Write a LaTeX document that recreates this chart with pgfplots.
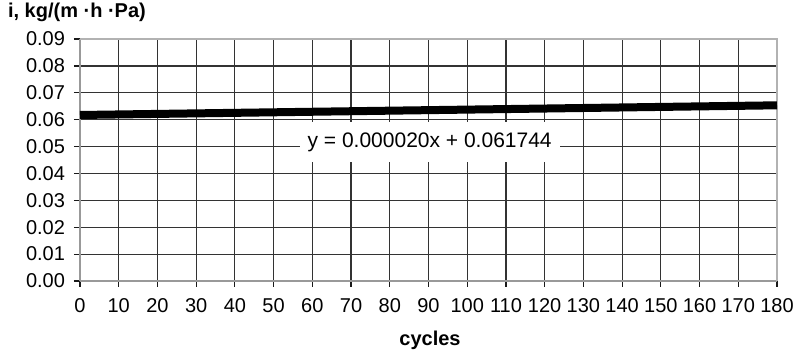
\documentclass[border=0pt]{standalone}
\usepackage{pgfplots}
\pgfplotsset{compat=1.18}
\usepackage{fontspec}
\setmainfont{Liberation Sans}
\begin{document}
\begin{tikzpicture}
\useasboundingbox (-40pt,-35.5pt) rectangle (360pt,140.5pt);
\begin{axis}[
  at={(0,0)}, anchor=south west,
  scale only axis, width=348.5pt, height=121pt,
  xmin=0, xmax=180, ymin=0, ymax=0.09,
  xtick={0,10,...,180}, ytick={0,0.01,...,0.09},
  /pgf/number format/assume math mode=true,
  yticklabel style={/pgf/number format/fixed,/pgf/number format/fixed zerofill,/pgf/number format/precision=2},
  scaled y ticks=false,
  ticklabel style={font=\fontsize{10}{11}\selectfont},
  xticklabel style={yshift=-2pt},
  yticklabel style={xshift=-1pt},
  tick align=outside, major tick length=3pt,
  tick style={black!90, line width=0.6pt},
  grid=major, grid style={black!80, line width=0.6pt},
  axis line style={draw=gray!80, line width=1pt},
  axis x line*=bottom, axis y line*=left,
  clip=false,
]
\draw[gray!60, line width=1.2pt] (axis cs:0,0.09) -- (axis cs:180,0.09) -- (axis cs:180,0);
\addplot[black, line width=4pt] coordinates {(0,0.061744) (180,0.065344)};
\node[fill=white, inner xsep=4pt, inner ysep=5pt, font=\fontsize{10.5}{12}\selectfont] at (axis cs:90.3,0.0517) {y = 0.000020x + 0.061744};
\end{axis}
\node[anchor=west, font=\bfseries\fontsize{10}{11}\selectfont] at (-39.5pt,134.5pt) {i, kg/(m ·h ·Pa)};
\node[font=\bfseries\fontsize{10}{11}\selectfont] at (175pt,-29.5pt) {cycles};
\end{tikzpicture}
\end{document}
